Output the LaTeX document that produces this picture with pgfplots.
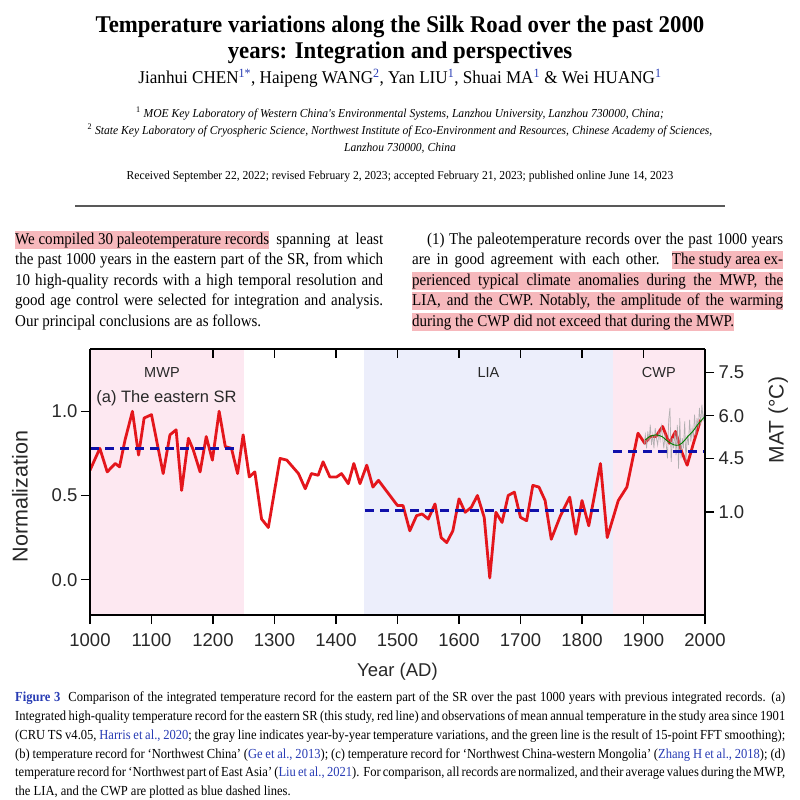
\documentclass[border=0pt]{standalone}
\usepackage{fontspec}
\setmainfont{Liberation Serif}
\newfontfamily\tnr[FakeStretch=0.95]{Liberation Serif}
\newfontfamily\tnrc[FakeStretch=0.91]{Liberation Serif}
\newfontfamily\arial{Liberation Sans}
\usepackage{pgfplots}
\pgfplotsset{compat=1.18}
\definecolor{hl}{RGB}{246,184,188}
\definecolor{linkblue}{RGB}{40,60,180}
\definecolor{mwp}{RGB}{253,232,241}
\definecolor{lia}{RGB}{236,238,251}
\definecolor{redl}{RGB}{228,22,28}
\definecolor{bdash}{RGB}{16,16,170}
\definecolor{txtgray}{RGB}{40,40,40}
\newcommand\hlbox[1]{{\setlength\fboxsep{0pt}\colorbox{hl}{\rule[-4.5pt]{0pt}{18pt}#1}}}
\begin{document}
\begin{tikzpicture}
\fill[white] (0pt,0pt) rectangle (800pt,-800pt);
\path[use as bounding box] (0pt,0pt) rectangle (800pt,-800pt);
\begin{scope}[x=1pt,y=-1pt]
% title block
\node[anchor=base] at (400,33) {\tnr\bfseries\fontsize{24}{26}\selectfont Temperature variations along the Silk Road over the past 2000};
\node[anchor=base] at (400,59) {\tnr\bfseries\fontsize{24}{26}\selectfont years: Integration and perspectives};
\node[anchor=base] at (400,84) {\tnr\fontsize{18}{20}\selectfont Jianhui CHEN\textsuperscript{\color{linkblue}1*}, Haipeng WANG\textsuperscript{\color{linkblue}2}, Yan LIU\textsuperscript{\color{linkblue}1}, Shuai MA\textsuperscript{\color{linkblue}1} \& Wei HUANG\textsuperscript{\color{linkblue}1}};
\node[anchor=base] at (400,117) {\tnr\itshape\fontsize{12.2}{14}\selectfont \textsuperscript{\upshape 1} MOE Key Laboratory of Western China's Environmental Systems, Lanzhou University, Lanzhou 730000, China;};
\node[anchor=base] at (400,134) {\tnr\itshape\fontsize{12.2}{14}\selectfont \textsuperscript{\upshape 2} State Key Laboratory of Cryospheric Science, Northwest Institute of Eco-Environment and Resources, Chinese Academy of Sciences,};
\node[anchor=base] at (400,151) {\tnr\itshape\fontsize{12.2}{14}\selectfont Lanzhou 730000, China};
\node[anchor=base] at (400,179) {\tnr\fontsize{12.2}{14}\selectfont Received September 22, 2022; revised February 2, 2023; accepted February 21, 2023; published online June 14, 2023};
\draw[gray!70!black,line width=1.4pt] (75,206) -- (725,206);
% left column
\begin{scope}[every node/.style={anchor=base west,inner sep=0pt,font=\tnrc\fontsize{16.5}{20}\selectfont}]
\node at (15,244) {\makebox[368pt][s]{\hlbox{We compiled 30 paleotemperature records} spanning at least}};
\node at (15,264.5) {\makebox[368pt][s]{the past 1000 years in the eastern part of the SR, from which}};
\node at (15,285) {\makebox[368pt][s]{10 high-quality records with a high temporal resolution and}};
\node at (15,305.5) {\makebox[368pt][s]{good age control were selected for integration and analysis.}};
\node at (15,326) {Our principal conclusions are as follows.};
% right column
\node at (427,244) {\makebox[356pt][s]{(1) The paleotemperature records over the past 1000 years}};
\node at (412,264.5) {\makebox[371pt][s]{are in good agreement with each other. \hlbox{The study area ex-}}};
\node at (412,285) {\hlbox{\makebox[371pt][s]{perienced typical climate anomalies during the MWP, the}}};
\node at (412,305.5) {\hlbox{\makebox[371pt][s]{LIA, and the CWP. Notably, the amplitude of the warming}}};
\node at (412,326) {\hlbox{during the CWP did not exceed that during the MWP.}};
\end{scope}
% caption
\begin{scope}[every node/.style={anchor=base west,inner sep=0pt,font=\tnrc\fontsize{13.8}{16}\selectfont}]
\node at (15,701) {\makebox[770pt][s]{{\color{linkblue}\bfseries Figure 3}\hspace{8pt}Comparison of the integrated temperature record for the eastern part of the SR over the past 1000 years with previous integrated records. (a)}};
\node at (15,720) {\makebox[770pt][s]{Integrated high-quality temperature record for the eastern SR (this study, red line) and observations of mean annual temperature in the study area since 1901}};
\node at (15,739) {\makebox[770pt][s]{(CRU TS v4.05, {\color{linkblue}Harris et al., 2020}; the gray line indicates year-by-year temperature variations, and the green line is the result of 15-point FFT smoothing);}};
\node at (15,758) {\makebox[770pt][s]{(b) temperature record for ‘Northwest China’ ({\color{linkblue}Ge et al., 2013}); (c) temperature record for ‘Northwest China-western Mongolia’ ({\color{linkblue}Zhang H et al., 2018}); (d)}};
\node at (15,776) {\makebox[770pt][s]{temperature record for ‘Northwest part of East Asia’ ({\color{linkblue}Liu et al., 2021}). For comparison, all records are normalized, and their average values during the MWP,}};
\node at (15,795) {the LIA, and the CWP are plotted as blue dashed lines.};
\end{scope}
\end{scope}

% ---------- main axis ----------
\begin{axis}[at={(90pt,-615pt)}, anchor=south west, scale only axis,
  width=615pt, height=266pt,
  xmin=1000, xmax=2000, ymin=-0.21, ymax=1.37,
  axis on top,
  axis x line*=bottom, axis y line*=left, tick align=outside,
  xtick={1000,1100,...,2000}, ytick={0,0.5,1}, yticklabels={0.0,0.5,1.0},
  major tick length=9pt,
  every tick/.style={black,line width=1.3pt},
  axis line style={line width=1.3pt,-},
  tick label style={font=\arial\fontsize{18.5}{18.5}\selectfont, text=txtgray},
  /pgf/number format/assume math mode=true,
  xticklabel style={/pgf/number format/1000 sep={}, yshift=-6pt},
  xlabel={Year (AD)}, ylabel={Normalization},
  xlabel style={font=\arial\fontsize{18.5}{18.5}\selectfont, text=txtgray, at={(axis description cs:0.5,-0.215)},anchor=center},
  ylabel style={font=\arial\fontsize{21.5}{21.5}\selectfont, text=txtgray, at={(axis description cs:-0.114,0.445)},anchor=center},
  clip=true]
\addplot[fill=mwp,draw=none] coordinates {(1000,-0.21) (1000,1.37) (1250,1.37) (1250,-0.21)} -- cycle;
\addplot[fill=lia,draw=none] coordinates {(1445,-0.21) (1445,1.37) (1850,1.37) (1850,-0.21)} -- cycle;
\addplot[fill=mwp,draw=none] coordinates {(1850,-0.21) (1850,1.37) (2000,1.37) (2000,-0.21)} -- cycle;
% red integrated record
\addplot[redl, line width=2.8pt, line join=round] coordinates {
(1000,0.65) (1016,0.78) (1028,0.64) (1041,0.69) (1048,0.67) (1057,0.83) (1069,1.00) (1079,0.74)
(1088,0.96) (1100,0.98) (1119,0.63) (1130,0.86) (1140,0.89) (1149,0.53) (1160,0.84) (1168,0.77)
(1179,0.64) (1189,0.85) (1199,0.71) (1210,1.00) (1220,0.79) (1230,0.78) (1240,0.63) (1249,0.86)
(1259,0.61) (1268,0.64) (1279,0.36) (1290,0.31) (1309,0.72) (1320,0.71) (1339,0.63) (1350,0.54)
(1360,0.63) (1371,0.62) (1379,0.70) (1390,0.61) (1401,0.61) (1409,0.63) (1420,0.57) (1429,0.69)
(1439,0.57) (1450,0.68) (1460,0.55) (1469,0.59) (1500,0.44) (1509,0.44) (1520,0.29) (1531,0.38)
(1540,0.39) (1550,0.36) (1561,0.45) (1571,0.25) (1580,0.22) (1590,0.29) (1600,0.48) (1610,0.40)
(1620,0.43) (1630,0.50) (1641,0.37) (1650,0.01) (1660,0.40) (1670,0.34) (1680,0.50) (1690,0.52)
(1700,0.37) (1710,0.35) (1720,0.56) (1730,0.55) (1740,0.47) (1750,0.24) (1765,0.38) (1780,0.49)
(1790,0.27) (1800,0.47) (1811,0.32) (1830,0.69) (1841,0.25) (1859,0.47) (1873,0.55) (1891,0.87)
(1902,0.81) (1911,0.85) (1920,0.85) (1931,0.91) (1942,0.81) (1952,0.88) (1962,0.76) (1971,0.68)
(1982,0.82) (1993,0.95)};
% gray yearly observations
\addplot[gray!70, line width=0.7pt, opacity=0.85] coordinates {
(1901,0.80) (1903,0.86) (1905,0.78) (1907,0.88) (1909,0.82) (1911,0.92) (1913,0.80) (1915,0.86)
(1917,0.78) (1919,0.90) (1921,0.84) (1923,0.80) (1925,0.88) (1927,0.83) (1929,0.91) (1931,0.85)
(1933,0.78) (1935,0.86) (1937,0.80) (1939,0.72) (1941,0.95) (1943,1.02) (1945,0.70) (1947,0.84)
(1949,0.78) (1951,0.88) (1953,0.74) (1955,0.92) (1957,0.66) (1959,0.96) (1961,0.72) (1963,0.84)
(1965,0.78) (1967,0.94) (1969,0.70) (1971,0.86) (1973,0.80) (1975,0.95) (1977,0.82) (1979,0.90)
(1981,0.84) (1983,0.98) (1985,0.86) (1987,0.96) (1989,0.90) (1991,1.02) (1993,0.92) (1995,1.04)
(1997,0.94) (1999,1.00)};
% green smoothed
\addplot[green!50!black, line width=0.9pt, smooth] coordinates {
(1903,0.83) (1910,0.85) (1920,0.86) (1930,0.85) (1940,0.82) (1950,0.80) (1958,0.80) (1965,0.82)
(1972,0.85) (1980,0.88) (1988,0.92) (1995,0.95) (2000,0.97)};
% blue dashed period means
\addplot[bdash, line width=2.8pt, dash pattern=on 9pt off 6pt] coordinates {(1000,0.78) (1240,0.78)};
\addplot[bdash, line width=2.8pt, dash pattern=on 9pt off 6pt] coordinates {(1447,0.41) (1837,0.41)};
\addplot[bdash, line width=2.8pt, dash pattern=on 9pt off 6pt] coordinates {(1851,0.76) (2000,0.76)};
% period labels
\node[font=\arial\fontsize{14.5}{14.5}\selectfont, text=txtgray] at (axis cs:1117,1.23) {MWP};
\node[font=\arial\fontsize{16.5}{16.5}\selectfont, text=txtgray, anchor=west, inner sep=0pt] at (axis cs:1010,1.075) {(a) The eastern SR};
\node[font=\arial\fontsize{14.5}{14.5}\selectfont, text=txtgray] at (axis cs:1648,1.23) {LIA};
\node[font=\arial\fontsize{14.5}{14.5}\selectfont, text=txtgray] at (axis cs:1925,1.23) {CWP};
\end{axis}

% top axis (inward ticks)
\begin{axis}[at={(90pt,-615pt)}, anchor=south west, scale only axis,
  width=615pt, height=266pt,
  xmin=1000, xmax=2000, ymin=-0.21, ymax=1.37,
  axis x line*=top, hide y axis, tick align=inside,
  xtick={1000,1100,...,2000}, xticklabels={},
  major tick length=9pt,
  every tick/.style={black,line width=1.3pt},
  axis line style={line width=1.3pt,-}]
\end{axis}

% right axis (MAT)
\begin{axis}[at={(90pt,-615pt)}, anchor=south west, scale only axis,
  width=615pt, height=266pt,
  xmin=1000, xmax=2000, ymin=-0.21, ymax=1.37,
  axis y line*=right, hide x axis, tick align=outside,
  ytick={0.402,0.720,0.974,1.230}, yticklabels={1.0,4.5,6.0,7.5},
  major tick length=9pt,
  every tick/.style={black,line width=1.3pt},
  axis line style={line width=1.3pt,-},
  tick label style={font=\arial\fontsize{18.5}{18.5}\selectfont, text=txtgray},
  yticklabel style={xshift=1pt},
  /pgf/number format/assume math mode=true,
  ylabel={MAT (°C)},
  ylabel style={font=\arial\fontsize{21}{21}\selectfont, text=txtgray, at={(axis description cs:1.119,0.733)}, anchor=center}]
\end{axis}
\end{tikzpicture}
\end{document}
